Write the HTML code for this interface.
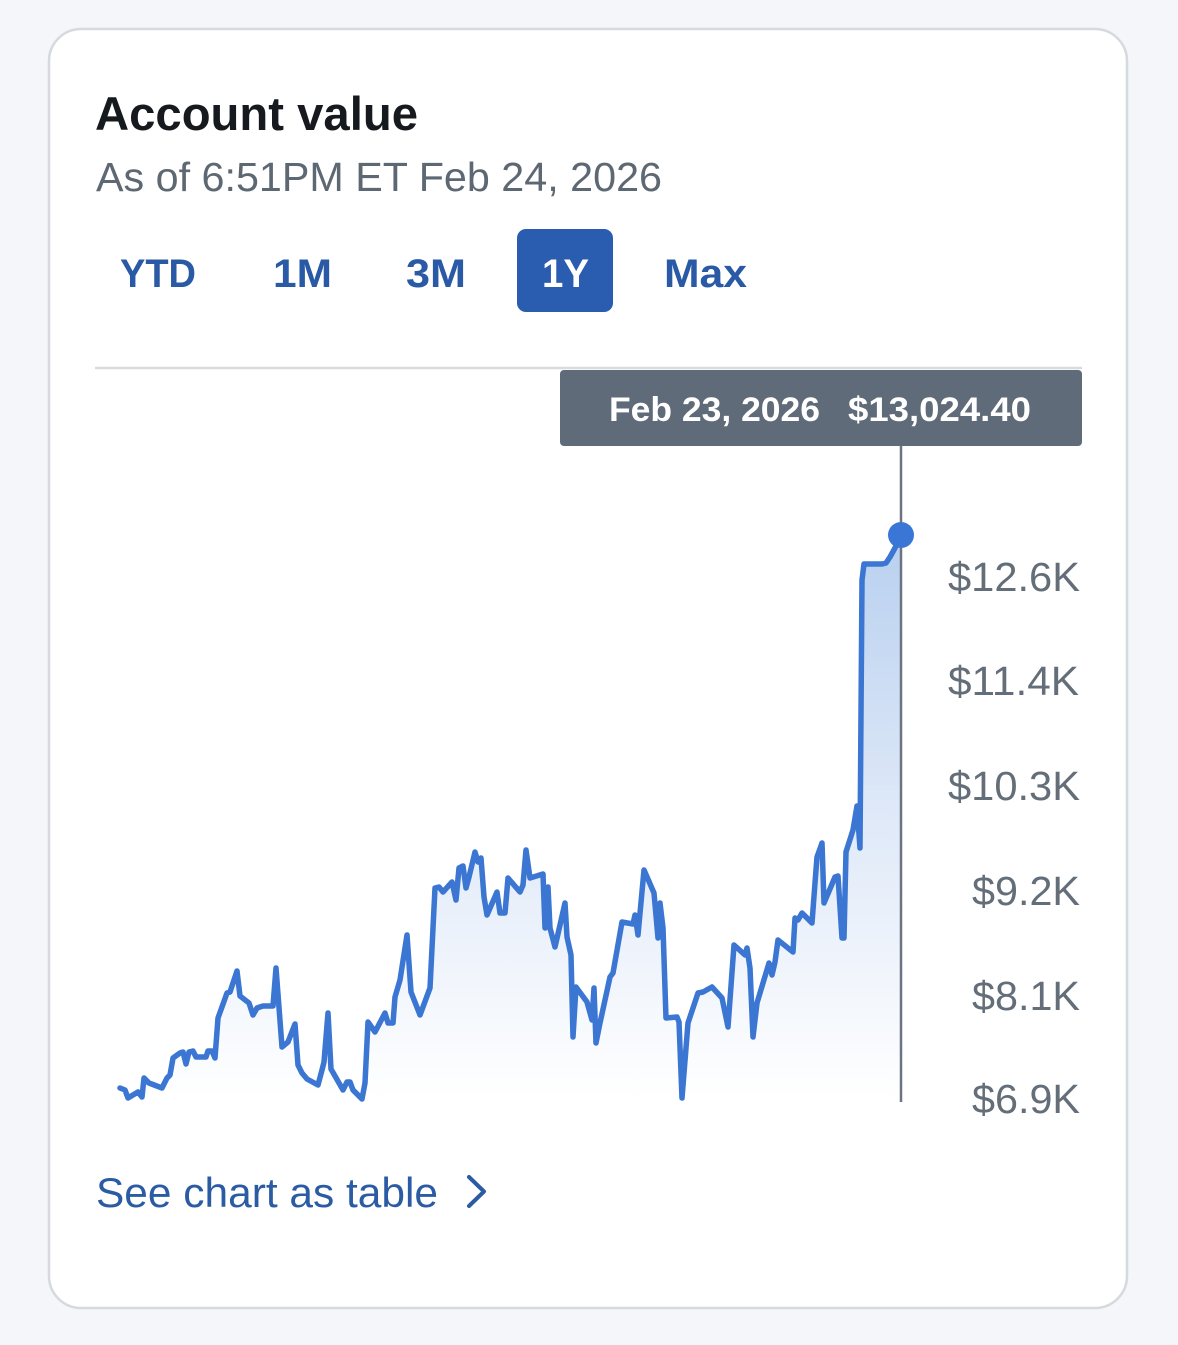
<!DOCTYPE html>
<html>
<head>
<meta charset="utf-8">
<style>
  html,body{margin:0;padding:0;background:#f4f6f9;}
  svg{display:block;}
  text{font-family:"Liberation Sans",sans-serif;}
</style>
</head>
<body>
<svg width="1178" height="1345" viewBox="0 0 1178 1345" xmlns="http://www.w3.org/2000/svg">
  <defs>
    <linearGradient id="g" x1="0" y1="535" x2="0" y2="1100" gradientUnits="userSpaceOnUse">
      <stop offset="0" stop-color="#b8d0ef"/>
      <stop offset="0.5" stop-color="#dfe9f8"/>
      <stop offset="1" stop-color="#ffffff"/>
    </linearGradient>
  </defs>
  <rect x="0" y="0" width="1178" height="1345" fill="#f4f6f9"/>
  <rect x="49" y="29" width="1078" height="1279" rx="32" ry="32" fill="#ffffff" stroke="#d6d9dd" stroke-width="2.5"/>

  <text x="95" y="130" font-size="47" font-weight="bold" fill="#16191d" textLength="323" lengthAdjust="spacingAndGlyphs">Account value</text>
  <text x="96" y="191" font-size="41" fill="#5e6873" textLength="566" lengthAdjust="spacingAndGlyphs">As of 6:51PM ET Feb 24, 2026</text>

  <rect x="517" y="229" width="96" height="83" rx="9" fill="#2a5cb0"/>
  <text x="120" y="287" font-size="40" font-weight="bold" fill="#2a5aa5" textLength="76" lengthAdjust="spacingAndGlyphs">YTD</text>
  <text x="273" y="287" font-size="40" font-weight="bold" fill="#2a5aa5" textLength="59" lengthAdjust="spacingAndGlyphs">1M</text>
  <text x="406" y="287" font-size="40" font-weight="bold" fill="#2a5aa5" textLength="60" lengthAdjust="spacingAndGlyphs">3M</text>
  <text x="542" y="287" font-size="40" font-weight="bold" fill="#ffffff" textLength="47" lengthAdjust="spacingAndGlyphs">1Y</text>
  <text x="664" y="287" font-size="40" font-weight="bold" fill="#2a5aa5" textLength="83" lengthAdjust="spacingAndGlyphs">Max</text>

  <line x1="95" y1="368" x2="1082" y2="368" stroke="#d9dcdf" stroke-width="2.5"/>

  <path fill="url(#g)" d="M120,1088 L125,1090 L128,1098 L138,1092 L142,1097 L144,1078 L149,1083 L162,1088 L167,1078 L170,1075 L173,1058 L180,1053 L183,1052 L186,1064 L189,1052 L193,1051 L196,1057 L206,1057 L208,1051 L212,1051 L215,1058 L218,1018 L227,993 L230,992 L237,971 L240,996 L249,1003 L253,1015 L257,1008 L263,1006 L273,1006 L276,968 L282,1047 L288,1042 L295,1024 L298,1065 L302,1073 L307,1079 L318,1085 L322,1070 L324,1062 L328,1013 L331,1069 L343,1090 L347,1082 L350,1082 L353,1090 L362,1099 L365,1083 L368,1022 L375,1032 L385,1013 L388,1023 L393,1023 L395,997 L400,980 L407,935 L411,992 L420,1015 L430,988 L435,888 L439,887 L443,892 L452,882 L456,900 L459,868 L463,866 L466,888 L469,877 L475,852 L478,862 L481,858 L484,897 L487,915 L497,892 L500,913 L505,913 L508,878 L520,892 L523,885 L526,850 L530,878 L543,874 L545,928 L548,887 L550,928 L555,947 L565,903 L567,937 L571,955 L573,1037 L576,987 L587,1002 L592,1020 L594,988 L596,1043 L600,1023 L610,977 L613,973 L622,922 L633,924 L635,915 L638,935 L644,870 L654,893 L658,938 L660,903 L663,928 L666,1018 L677,1017 L679,1022 L682,1098 L688,1023 L698,993 L703,992 L712,987 L722,998 L728,1027 L734,945 L745,955 L747,948 L750,968 L753,1037 L757,1003 L769,963 L772,975 L775,962 L778,940 L793,952 L795,918 L798,920 L802,913 L812,923 L815,883 L817,857 L822,843 L824,903 L835,877 L838,876 L842,938 L844,938 L846,852 L853,830 L857,806 L860,848 L862,580 L864,564 L882,564 L886,563 L890,557 L895,548 L900,536 L900,1100 L120,1100 Z"/>

  <path fill="none" stroke="#3a76d2" stroke-width="5.5" stroke-linejoin="round" stroke-linecap="round" d="M120,1088 L125,1090 L128,1098 L138,1092 L142,1097 L144,1078 L149,1083 L162,1088 L167,1078 L170,1075 L173,1058 L180,1053 L183,1052 L186,1064 L189,1052 L193,1051 L196,1057 L206,1057 L208,1051 L212,1051 L215,1058 L218,1018 L227,993 L230,992 L237,971 L240,996 L249,1003 L253,1015 L257,1008 L263,1006 L273,1006 L276,968 L282,1047 L288,1042 L295,1024 L298,1065 L302,1073 L307,1079 L318,1085 L322,1070 L324,1062 L328,1013 L331,1069 L343,1090 L347,1082 L350,1082 L353,1090 L362,1099 L365,1083 L368,1022 L375,1032 L385,1013 L388,1023 L393,1023 L395,997 L400,980 L407,935 L411,992 L420,1015 L430,988 L435,888 L439,887 L443,892 L452,882 L456,900 L459,868 L463,866 L466,888 L469,877 L475,852 L478,862 L481,858 L484,897 L487,915 L497,892 L500,913 L505,913 L508,878 L520,892 L523,885 L526,850 L530,878 L543,874 L545,928 L548,887 L550,928 L555,947 L565,903 L567,937 L571,955 L573,1037 L576,987 L587,1002 L592,1020 L594,988 L596,1043 L600,1023 L610,977 L613,973 L622,922 L633,924 L635,915 L638,935 L644,870 L654,893 L658,938 L660,903 L663,928 L666,1018 L677,1017 L679,1022 L682,1098 L688,1023 L698,993 L703,992 L712,987 L722,998 L728,1027 L734,945 L745,955 L747,948 L750,968 L753,1037 L757,1003 L769,963 L772,975 L775,962 L778,940 L793,952 L795,918 L798,920 L802,913 L812,923 L815,883 L817,857 L822,843 L824,903 L835,877 L838,876 L842,938 L844,938 L846,852 L853,830 L857,806 L860,848 L862,580 L864,564 L882,564 L886,563 L890,557 L895,548 L900,536"/>

  <line x1="901" y1="445" x2="901" y2="1102" stroke="#6b7582" stroke-width="2.5"/>
  <circle cx="901" cy="535" r="13" fill="#3a76d6"/>

  <rect x="560" y="370" width="522" height="76" rx="4" fill="#5f6b79"/>
  <text x="609" y="421" font-size="34" font-weight="bold" fill="#ffffff" textLength="211" lengthAdjust="spacingAndGlyphs">Feb 23, 2026</text>
  <text x="848" y="421" font-size="34" font-weight="bold" fill="#ffffff" textLength="183" lengthAdjust="spacingAndGlyphs">$13,024.40</text>

  <g font-size="41" fill="#646e79">
    <text x="948" y="591" textLength="132" lengthAdjust="spacingAndGlyphs">$12.6K</text>
    <text x="948" y="695" textLength="131" lengthAdjust="spacingAndGlyphs">$11.4K</text>
    <text x="948" y="800" textLength="132" lengthAdjust="spacingAndGlyphs">$10.3K</text>
    <text x="972" y="905" textLength="108" lengthAdjust="spacingAndGlyphs">$9.2K</text>
    <text x="972" y="1010" textLength="108" lengthAdjust="spacingAndGlyphs">$8.1K</text>
    <text x="972" y="1113" textLength="108" lengthAdjust="spacingAndGlyphs">$6.9K</text>
  </g>

  <text x="96" y="1207" font-size="42" fill="#2b5ba3" textLength="342" lengthAdjust="spacingAndGlyphs">See chart as table</text>
  <polyline points="469,1177 484,1191.5 469,1206" fill="none" stroke="#2b5ba3" stroke-width="4" stroke-linecap="round" stroke-linejoin="round"/>
</svg>
</body>
</html>
